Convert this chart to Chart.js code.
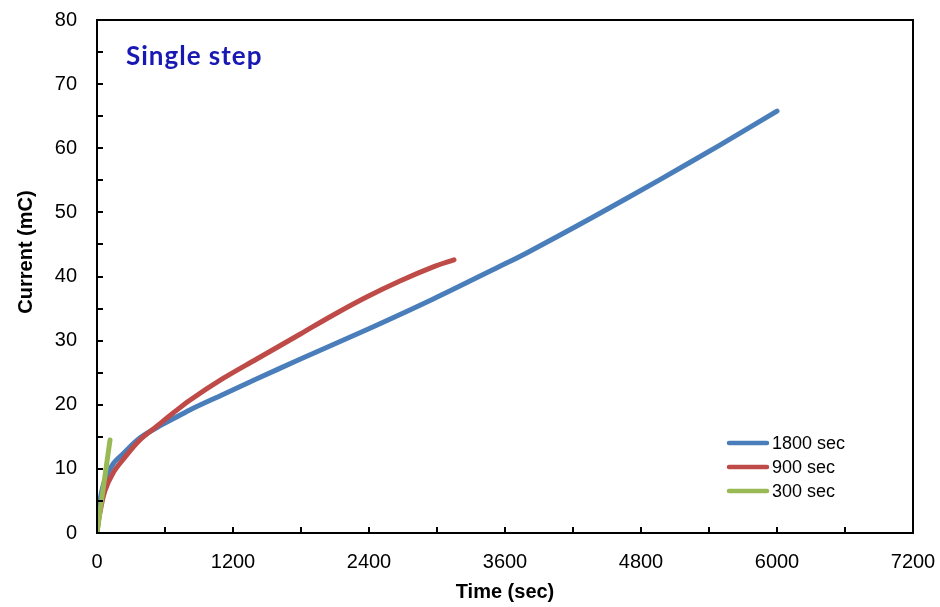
<!DOCTYPE html>
<html>
<head>
<meta charset="utf-8">
<script src="https://cdn.jsdelivr.net/npm/chart.js@4/dist/chart.umd.min.js"></script>
<style>
  html, body { margin: 0; padding: 0; background: #fff; }
  #wrap { width: 940px; height: 607px; position: relative; }
</style>
</head>
<body>
<div id="wrap"><canvas id="chart"></canvas></div>
<script>
// Series (time in sec, charge in mC)
const time1800 = [0, 10, 26, 70, 143, 232, 378, 525, 672, 819, 1112, 1406, 1791, 2379, 2967, 3555, 3783, 4370, 4956, 5496, 6000];
const value1800 = [0, 2.6, 5.1, 8.3, 10.8, 12.4, 14.8, 16.4, 17.8, 19.2, 21.6, 24.0, 27.1, 31.7, 36.5, 41.6, 43.6, 49.2, 55.0, 60.5, 65.8];

const time900 = [0, 10, 26, 70, 143, 232, 378, 525, 672, 819, 1112, 1406, 1791, 2085, 2379, 2673, 2967, 3150];
const value900 = [0, 1.5, 3.2, 6.6, 9.4, 11.5, 14.5, 16.6, 18.7, 20.7, 24.1, 27.1, 31.0, 34.0, 36.8, 39.3, 41.5, 42.6];

const time300 = [0, 56, 115];
const value300 = [0, 7.1, 14.5];

const seriesLabels = ['1800 sec', '900 sec', '300 sec'];
const seriesColors = ['#4a7ebb', '#be4b48', '#98b954'];

const xMax = 7200, xStep = 600, xLabelStep = 1200;
const yMax = 80, yStep = 5, yLabelStep = 10;

function toPoints(xs, ys) {
    return xs.map((x, i) => ({ x: x, y: ys[i] }));
}

// box, inward ticks, legend, annotation, y title
const decorPlugin = {
    id: 'decor',
    afterDraw(chart) {
        const ctx = chart.ctx;
        const area = chart.chartArea;
        const xs = chart.scales.x;
        const ys = chart.scales.y;
        ctx.save();
        ctx.strokeStyle = '#000';
        ctx.lineWidth = 2;
        ctx.strokeRect(area.left, area.top, area.right - area.left, area.bottom - area.top);

        ctx.beginPath();
        xs.ticks.forEach(t => {
            const px = Math.round(xs.getPixelForValue(t.value));
            ctx.moveTo(px, area.bottom);
            ctx.lineTo(px, area.bottom - 6);
        });
        ys.ticks.forEach(t => {
            const py = Math.round(ys.getPixelForValue(t.value));
            ctx.moveTo(area.left, py);
            ctx.lineTo(area.left + 6, py);
        });
        ctx.stroke();

        // legend
        ctx.font = '18px "Liberation Sans", Arial, sans-serif';
        ctx.textBaseline = 'middle';
        ctx.textAlign = 'left';
        ctx.lineCap = 'round';
        seriesLabels.forEach((lbl, i) => {
            const y = 443 + i * 24;
            ctx.strokeStyle = seriesColors[i];
            ctx.lineWidth = 4.5;
            ctx.beginPath();
            ctx.moveTo(729, y);
            ctx.lineTo(767, y);
            ctx.stroke();
            ctx.fillStyle = '#000';
            ctx.fillText(lbl, 772, y + 1);
        });

        // annotation
        ctx.fillStyle = '#1818b2';
        ctx.font = 'bold 26px Lato, "Open Sans", sans-serif';
        ctx.letterSpacing = '1px';
        ctx.textBaseline = 'middle';
        ctx.fillText('Single step', 126, 57);
        ctx.letterSpacing = '0px';

        // y axis title
        ctx.fillStyle = '#000';
        ctx.font = 'bold 20px "Liberation Sans", Arial, sans-serif';
        ctx.textAlign = 'center';
        ctx.translate(26, 252);
        ctx.rotate(-Math.PI / 2);
        ctx.fillText('Current (mC)', 0, 0);
        ctx.restore();
    }
};

const ds = (label, xs, ys, color, order) => ({
    label: label,
    data: toPoints(xs, ys),
    borderColor: color,
    backgroundColor: color,
    borderWidth: 5,
    borderCapStyle: 'round',
    borderJoinStyle: 'round',
    pointRadius: 0,
    showLine: true,
    tension: 0.35,
    order: order
});

new Chart(document.getElementById('chart'), {
    type: 'scatter',
    data: {
        datasets: [
            ds(seriesLabels[0], time1800, value1800, seriesColors[0], 3),
            ds(seriesLabels[1], time900, value900, seriesColors[1], 2),
            ds(seriesLabels[2], time300, value300, seriesColors[2], 1)
        ]
    },
    options: {
        responsive: true,
        maintainAspectRatio: false,
        animation: false,
        layout: { padding: { top: 20, right: 27, left: 0, bottom: 0 } },
        plugins: {
            legend: { display: false },
            tooltip: { enabled: false }
        },
        scales: {
            x: {
                type: 'linear',
                min: 0,
                max: xMax,
                afterFit: (s) => {
                    s.height = 74;
                    s.paddingLeft = 0;
                    s.paddingRight = 0;
                },
                grid: { display: false, drawTicks: false },
                border: { display: false },
                ticks: {
                    stepSize: xStep,
                    padding: 17,
                    color: '#000',
                    maxRotation: 0,
                    autoSkip: false,
                    font: { family: '"Liberation Sans", Arial, sans-serif', size: 20 },
                    callback: (v) => (v % xLabelStep === 0 ? v : '')
                },
                title: {
                    display: true,
                    text: 'Time (sec)',
                    color: '#000',
                    padding: { top: 0, bottom: 3 },
                    font: { family: '"Liberation Sans", Arial, sans-serif', size: 20, weight: 'bold' }
                }
            },
            y: {
                min: 0,
                max: yMax,
                afterFit: (s) => {
                    s.width = 97;
                    s.paddingTop = 0;
                    s.paddingBottom = 0;
                },
                grid: { display: false, drawTicks: false },
                border: { display: false },
                ticks: {
                    stepSize: yStep,
                    padding: 20,
                    color: '#000',
                    autoSkip: false,
                    font: { family: '"Liberation Sans", Arial, sans-serif', size: 20 },
                    callback: (v) => (v % yLabelStep === 0 ? v : '')
                }
            }
        }
    },
    plugins: [decorPlugin]
});
</script>
</body>
</html>
